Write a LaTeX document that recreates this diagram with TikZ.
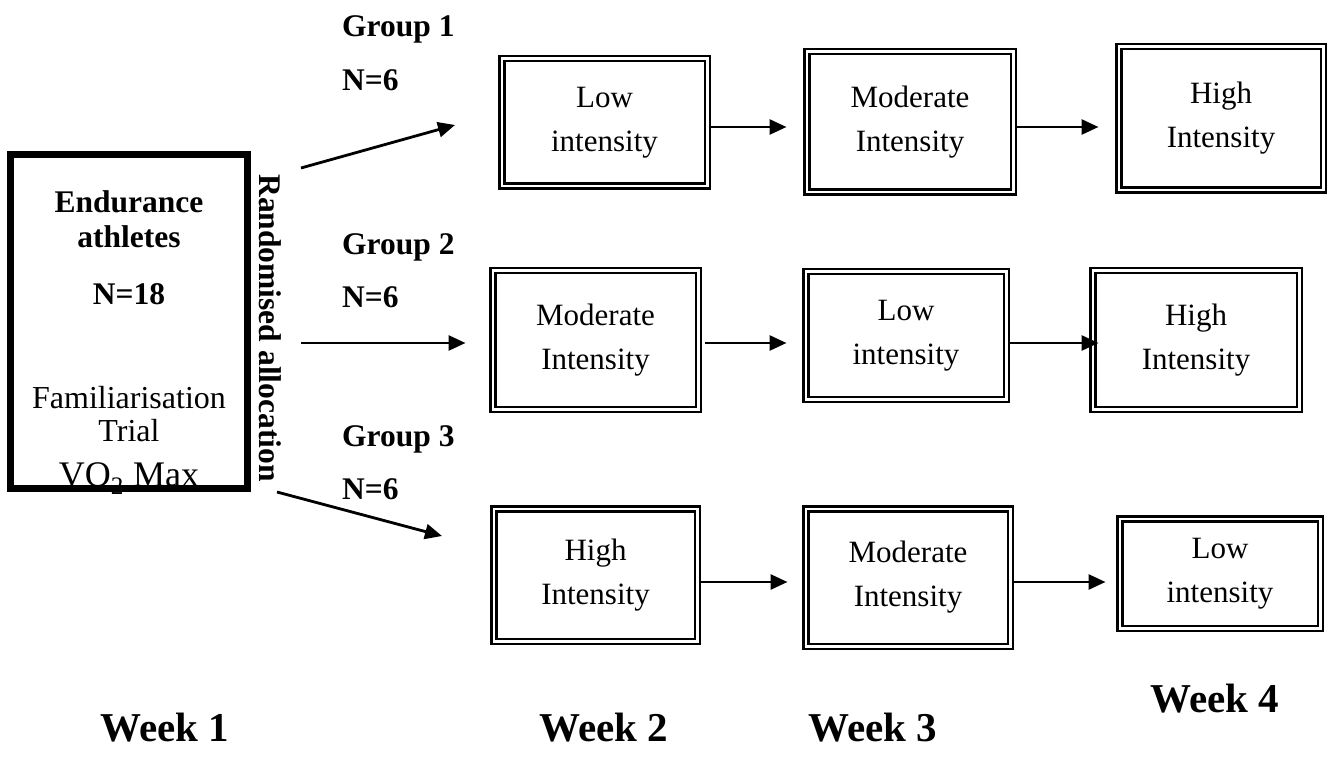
\documentclass[tikz,border=0pt]{standalone}
\usepackage{fontspec}
\setmainfont{Liberation Serif}
\usetikzlibrary{arrows.meta}
\tikzset{
  dbox/.style={draw=black, line width=2.5pt, double=white, double distance=2.5pt, rectangle, inner sep=0pt, align=center, font=\fontsize{31}{44}\selectfont},
  thickbox/.style={draw=black, line width=7pt, rectangle, inner sep=0pt},
  arr/.style={line width=2.8pt, -{Triangle[length=17pt,width=15pt]}},
  lbl/.style={inner sep=0pt, font=\fontsize{31.5}{36}\selectfont\bfseries},
  txt/.style={inner sep=0pt, font=\fontsize{32}{36}\selectfont},
  wk/.style={inner sep=0pt, font=\fontsize{41}{44}\selectfont\bfseries}
}
\begin{document}
\begin{tikzpicture}[x=1pt,y=-1pt]
\useasboundingbox (0,0) rectangle (1330,767);
% left box texts
\node[lbl, anchor=base] (t1) at (129,213) {Endurance};
\node[lbl, anchor=base] (t2) at (129,248) {athletes};
\node[lbl, anchor=base] (t3) at (129,304) {N=18};
\node[txt, anchor=base] (t4) at (129,408) {Familiarisation};
\node[txt, anchor=base] (t5) at (129,441) {Trial};
\node[inner sep=0pt, anchor=base, font=\fontsize{36}{40}\selectfont] (t6) at (129,486) {VO\textsubscript{2} Max};
\node[thickbox, minimum width=237pt, minimum height=334pt] (start) at (129,321.5) {};
\node[lbl, rotate=-90] (rand) at (270,328) {Randomised allocation};
% group labels
\node[lbl, anchor=base west] (g1) at (342,37) {Group 1};
\node[lbl, anchor=base west] (n1) at (342,91) {N=6};
\node[lbl, anchor=base west] (g2) at (342,255) {Group 2};
\node[lbl, anchor=base west] (n2) at (342,308) {N=6};
\node[lbl, anchor=base west] (g3) at (342,446) {Group 3};
\node[lbl, anchor=base west] (n3) at (342,499) {N=6};
% row 1
\node[dbox, minimum width=205.5pt, minimum height=127.5pt] (b11) at (604.5,122.5) {Low\\intensity};
\node[dbox, minimum width=206.5pt, minimum height=140.5pt] (b12) at (910,122) {Moderate\\Intensity};
\node[dbox, minimum width=204.5pt, minimum height=143.5pt] (b13) at (1221,118.5) {High\\Intensity};
% row 2
\node[dbox, minimum width=205.5pt, minimum height=138.5pt] (b21) at (595.5,340) {Moderate\\Intensity};
\node[dbox, minimum width=200.5pt, minimum height=127.5pt] (b22) at (906,335.5) {Low\\intensity};
\node[dbox, minimum width=206.5pt, minimum height=138.5pt] (b23) at (1196,340) {High\\Intensity};
% row 3
\node[dbox, minimum width=203.5pt, minimum height=132.5pt] (b31) at (595.5,575) {High\\Intensity};
\node[dbox, minimum width=204.5pt, minimum height=137.5pt] (b32) at (908,577.5) {Moderate\\Intensity};
\node[dbox, minimum width=200.5pt, minimum height=109.5pt] (b33) at (1220,573.5) {Low\\intensity};
% allocation arrows
\coordinate (a1s) at (301,168);
\coordinate (a1e) at (455,125);
\coordinate (a2s) at (301,343);
\coordinate (a3s) at (277,492);
\coordinate (a3e) at (442,536);
\draw[arr] (a1s) -- (a1e);
\draw[arr] (a2s) -- ([xshift=-26pt]b21.west |- a2s);
\draw[arr] (a3s) -- (a3e);
% row arrows
\draw[arr, shorten >=19pt] (b11.east |- 0,127) -- (b12.west |- 0,127);
\draw[arr, shorten >=19pt] (b12.east |- 0,127) -- (b13.west |- 0,127);
\draw[arr] ([xshift=5pt]b21.east |- 0,343) -- ([xshift=-18pt]b22.west |- 0,343);
\draw[arr] (b22.east |- 0,343) -- ([xshift=7pt]b23.west |- 0,343);
\draw[arr] (b31.east |- 0,582) -- ([xshift=-17pt]b32.west |- 0,582);
\draw[arr] (b32.east |- 0,582) -- ([xshift=-13pt]b33.west |- 0,582);
% week labels
\node[wk, anchor=base] (w1) at (165,741) {Week 1};
\node[wk, anchor=base] (w2) at (604,741) {Week 2};
\node[wk, anchor=base] (w3) at (873,741) {Week 3};
\node[wk, anchor=base] (w4) at (1215,712) {Week 4};
\end{tikzpicture}
\end{document}
